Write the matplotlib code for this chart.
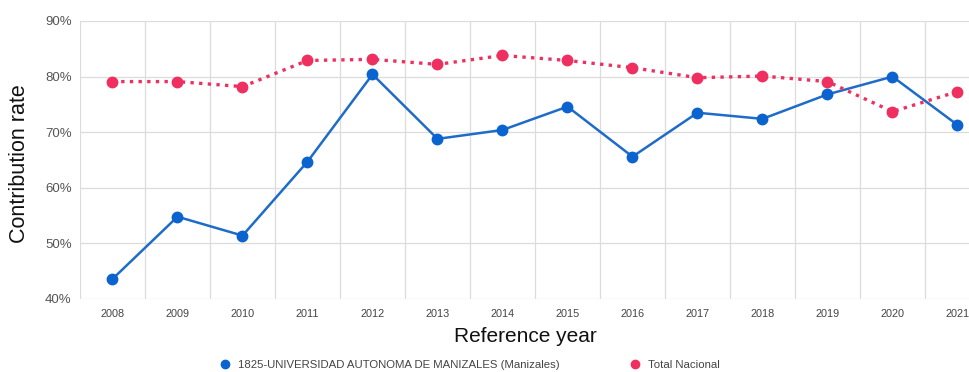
import matplotlib
matplotlib.use("Agg")
import matplotlib.pyplot as plt
from matplotlib.lines import Line2D
from matplotlib.ticker import FuncFormatter, MultipleLocator, FixedLocator

years = ["2008", "2009", "2010", "2011", "2012", "2013", "2014", "2015", "2016",
         "2017", "2018", "2019", "2020", "2021"]
uam = [43.6, 54.8, 51.4, 64.7, 80.4, 68.8, 70.4, 74.6, 65.6, 73.5, 72.4, 76.8, 80.0, 71.3]
nacional = [79.1, 79.1, 78.2, 82.9, 83.1, 82.2, 83.8, 82.9, 81.6, 79.8, 80.1, 79.1, 73.7, 77.3]
series_names = ["1825-UNIVERSIDAD AUTONOMA DE MANIZALES (Manizales)", "Total Nacional"]

plt.rcParams['font.family'] = ['Liberation Sans', 'DejaVu Sans']

W, H = 970, 372
fig = plt.figure(figsize=(W / 100, H / 100), dpi=100)
# plot area: x 80..990 (cropped at right), y 21..299
ax = fig.add_axes([80 / W, 1 - 299 / H, 910 / W, (299 - 21) / H])

x = list(range(len(years)))
blue = "#0b63d0"
red = "#ef2f5f"
ax.plot(x, uam, color="#1e6cc8", lw=1.8, marker="o", ms=7.5,
        markerfacecolor=blue, markeredgecolor=blue, zorder=3)
ax.plot(x, nacional, color=red, lw=2.4, ls=(0, (1, 1.6)), marker="o", ms=7.5,
        markerfacecolor=red, markeredgecolor=red, zorder=3)

ax.set_xlim(-0.5, len(years) - 0.5)
ax.set_ylim(40, 90)
ax.yaxis.set_major_locator(MultipleLocator(10))
ax.yaxis.set_major_formatter(FuncFormatter(lambda v, p: f"{v:.0f}%"))
ax.set_xticks(x)
ax.set_xticklabels(years)
ax.xaxis.set_minor_locator(FixedLocator([i - 0.5 for i in range(len(years) + 1)]))
ax.grid(True, which="minor", axis="x", color="#dcdcdc", lw=0.9)
ax.grid(True, which="major", axis="y", color="#dcdcdc", lw=0.9)
ax.set_axisbelow(True)
for s in ax.spines.values():
    s.set_visible(False)
ax.tick_params(axis="x", which="both", length=0, labelsize=7.8, colors="#444444", pad=7)
ax.tick_params(axis="y", which="both", length=0, labelsize=9.5, colors="#555555", pad=6)

fig.text(20 / W, 1 - 164 / H, "Contribution rate", rotation=90, ha="center", va="center",
         fontsize=15.5, color="#111111")
fig.text(525 / W, 1 - 337 / H, "Reference year", ha="center", va="center",
         fontsize=15, color="#111111")

colors = [blue, red]
anchors = [220, 630]
for name, c, ax_x in zip(series_names, colors, anchors):
    h = Line2D([], [], ls="none", marker="o", ms=6, color=c)
    leg = fig.legend([h], [name], loc="center left", bbox_to_anchor=(ax_x / W, 1 - 365 / H),
                     frameon=False, fontsize=8.2, handlelength=0.8, handletextpad=0.8,
                     borderpad=0, borderaxespad=0)
    for t in leg.get_texts():
        t.set_color("#444444")

fig.savefig("out.png", dpi=100)
